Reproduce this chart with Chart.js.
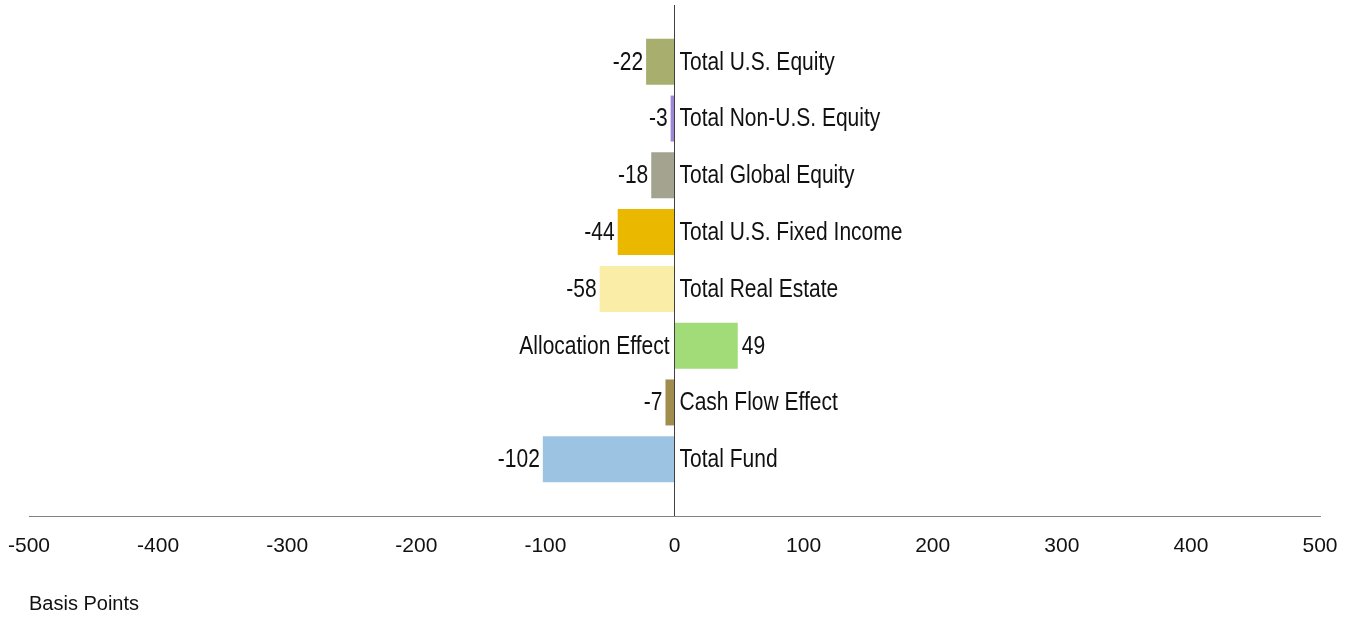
<!DOCTYPE html>
<html>
<head>
<meta charset="utf-8">
<script src="https://cdn.jsdelivr.net/npm/chart.js@4/dist/chart.umd.min.js"></script>
<style>
html,body{margin:0;padding:0;background:#fff;}
#wrap{width:1352px;height:618px;position:relative;}
</style>
</head>
<body>
<div id="wrap"><canvas id="c" width="1352" height="618"></canvas></div>
<script>
const categories = ["Total U.S. Equity","Total Non-U.S. Equity","Total Global Equity","Total U.S. Fixed Income","Total Real Estate","Allocation Effect","Cash Flow Effect","Total Fund"];
const values = [-22, -3, -18, -44, -58, 49, -7, -102];
const barColors = ["#A8AE6D","#9C88D4","#A3A38F","#EBB800","#FAEDA8","#A2DC78","#A08C4D","#9DC3E3"];
const xTicks = [-500,-400,-300,-200,-100,0,100,200,300,400,500];
const axisTitle = "Basis Points";

const FONT = "'Liberation Sans',Arial,sans-serif";
const SX = 0.84; // horizontal squeeze to imitate a narrow face

// pad with empty slots top and bottom
const labels = [""].concat(categories, [""]);
const data = [null].concat(values, [null]);
const colors = ["#fff"].concat(barColors, ["#fff"]);

function narrowText(ctx, text, x, y, align) {
  ctx.save();
  ctx.translate(x, y);
  ctx.scale(SX, 1);
  ctx.textAlign = align;
  ctx.fillText(text, 0, 0);
  ctx.restore();
}

const labelPlugin = {
  id: 'barLabels',
  afterDatasetsDraw(chart) {
    const ctx = chart.ctx;
    const meta = chart.getDatasetMeta(0);
    const xs = chart.scales.x;
    const zero = xs.getPixelForValue(0);
    ctx.save();
    ctx.font = "25px " + FONT;
    ctx.fillStyle = "#111";
    ctx.textBaseline = "middle";
    values.forEach((v, i) => {
      const el = meta.data[i + 1];
      const y = el.y + 1;
      const end = xs.getPixelForValue(v);
      if (v < 0) {
        narrowText(ctx, String(v), end - 3, y, "right");
        narrowText(ctx, categories[i], zero + 5, y, "left");
      } else {
        narrowText(ctx, String(v), end + 4, y, "left");
        narrowText(ctx, categories[i], zero - 5, y, "right");
      }
    });
    ctx.restore();
  }
};

new Chart(document.getElementById('c'), {
  type: 'bar',
  data: {
    labels: labels,
    datasets: [{
      data: data,
      backgroundColor: colors,
      borderWidth: 0,
      barPercentage: 0.81,
      categoryPercentage: 1.0
    }]
  },
  options: {
    indexAxis: 'y',
    responsive: false,
    animation: false,
    devicePixelRatio: 1,
    layout: { padding: { left: 29, right: 32, top: 5, bottom: 2 } },
    plugins: { legend: { display: false }, tooltip: { enabled: false } },
    scales: {
      y: {
        type: 'category',
        offset: false,
        display: false
      },
      x: {
        type: 'linear',
        min: -500,
        max: 500,
        afterBuildTicks(scale) { scale.ticks = xTicks.map(v => ({ value: v })); },
        afterFit(scale) { scale.paddingLeft = 0; scale.paddingRight = 0; scale.height = 100; },
        border: { display: true, color: '#808080', width: 1 },
        grid: {
          drawTicks: false,
          color: (c) => (c.tick && c.tick.value === 0) ? '#404040' : 'rgba(0,0,0,0)',
          lineWidth: 1
        },
        ticks: {
          padding: 18,
          color: '#111',
          font: { family: FONT, size: 21, lineHeight: 1.2 },
          maxRotation: 0,
          callback: (v) => String(v)
        },
        title: {
          display: true,
          text: axisTitle,
          align: 'start',
          color: '#111',
          font: { family: FONT, size: 20, lineHeight: 1.2 },
          padding: { top: 14, bottom: 0 }
        }
      }
    }
  },
  plugins: [labelPlugin]
});
</script>
</body>
</html>
